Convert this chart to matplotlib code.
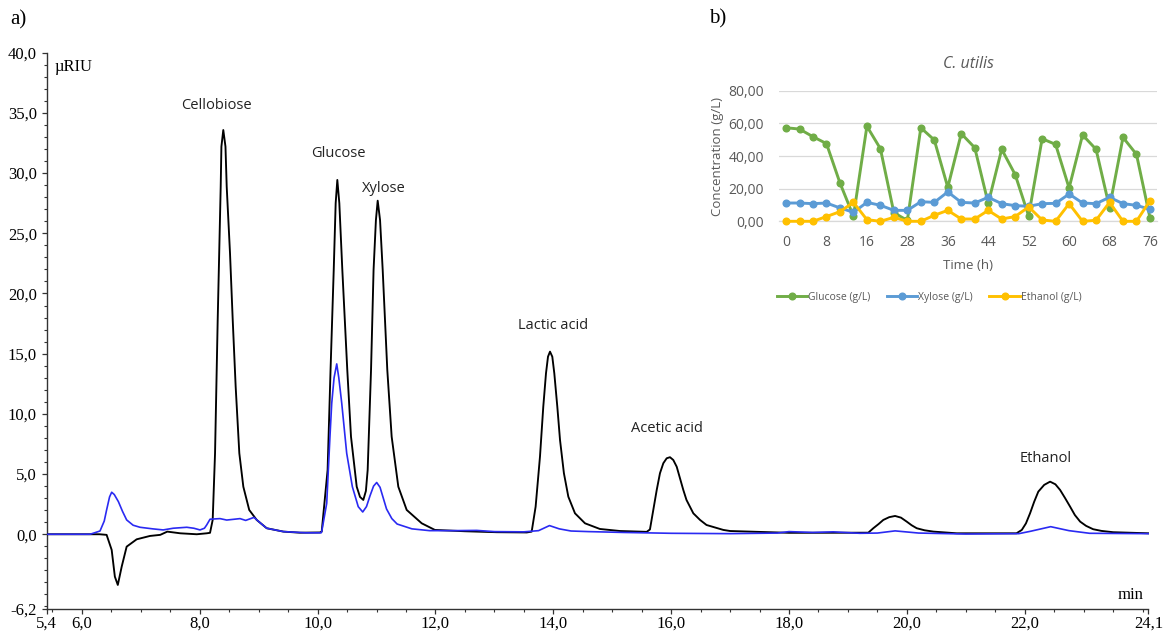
import matplotlib
matplotlib.use("Agg")
import matplotlib.pyplot as plt
from matplotlib.ticker import MultipleLocator, FixedLocator
from matplotlib.lines import Line2D

# ---------------- panel a) chromatogram (values read from the picture) ----------------
black_t = [5.40, 6.30, 6.42, 6.506, 6.56, 6.61, 6.676, 6.76, 6.93, 7.156, 7.33, 7.45, 7.50,
           7.67, 7.95, 8.12, 8.175, 8.22, 8.26, 8.305, 8.356, 8.368, 8.40, 8.437, 8.458,
           8.514, 8.56, 8.61, 8.672, 8.74, 8.84, 8.967, 9.137, 9.42, 9.70, 10.04,
           10.07, 10.17, 10.22, 10.274, 10.307, 10.335, 10.369, 10.42, 10.504, 10.567,
           10.664, 10.72, 10.776, 10.82, 10.85, 10.907, 10.95, 10.99, 11.02, 11.06, 11.105,
           11.183, 11.257, 11.37, 11.512, 11.767, 11.99, 12.5, 13.04, 13.55,
           13.633, 13.70, 13.774, 13.83, 13.876, 13.91, 13.944, 13.983, 14.017, 14.068,
           14.114, 14.18, 14.255, 14.368, 14.538, 14.79, 15.13, 15.585,
           15.64, 15.697, 15.755, 15.81, 15.867, 15.924, 15.98, 16.036, 16.094, 16.206,
           16.26, 16.376, 16.49, 16.60, 16.885, 17.0, 18.0, 19.345, 19.43, 19.52, 19.6,
           19.7, 19.8, 19.9, 19.997, 20.08, 20.167, 20.3, 20.45, 20.845, 21.86, 21.95,
           22.02, 22.09, 22.16, 22.23, 22.33, 22.43, 22.52, 22.60, 22.685, 22.77, 22.85,
           22.94, 23.04, 23.16, 23.3, 23.50, 24.07, 24.1]
black_y = [0.0, 0.0, -0.05, -1.30, -3.52, -4.21, -2.69, -1.03, -0.42, -0.14, -0.05, 0.22, 0.19,
           0.08, 0.0, 0.08, 0.12, 1.19, 6.73, 17.8, 28.87, 32.2, 33.58, 32.2, 28.87,
           23.34, 17.8, 12.26, 6.73, 3.95, 2.02, 1.19, 0.5, 0.22, 0.13, 0.15,
           0.22, 5.34, 13.65, 21.95, 27.5, 29.43, 27.5, 21.95, 13.65, 8.11,
           3.95, 3.1, 2.85, 3.6, 5.34, 13.65, 21.95, 26.1, 27.71, 26.1, 21.95,
           13.65, 8.11, 3.95, 2.02, 0.91, 0.36, 0.25, 0.17, 0.15,
           0.22, 2.29, 6.45, 10.6, 13.37, 14.75, 15.17, 14.75, 13.37, 10.6,
           7.83, 5.07, 3.12, 1.74, 0.91, 0.44, 0.27, 0.2,
           0.4, 2.02, 3.68, 5.07, 5.9, 6.31, 6.40, 6.17, 5.61, 3.68,
           2.85, 1.74, 1.19, 0.77, 0.36, 0.27, 0.12, 0.13, 0.5, 0.85, 1.19,
           1.42, 1.52, 1.38, 1.05, 0.75, 0.5, 0.33, 0.22, 0.08, 0.08, 0.36,
           0.9, 1.74, 2.7, 3.54, 4.1, 4.37, 4.15, 3.68, 3.0, 2.29, 1.6,
           1.05, 0.7, 0.42, 0.28, 0.17, 0.08, 0.08]

blue_t = [5.40, 6.14, 6.308, 6.38, 6.42, 6.47, 6.506, 6.55, 6.62, 6.69, 6.76, 6.87, 6.987,
          7.2, 7.38, 7.55, 7.78, 7.9, 8.005, 8.08, 8.118, 8.175, 8.344, 8.458, 8.684, 8.78,
          8.92, 9.05, 9.137, 9.42, 9.8, 10.06, 10.07, 10.155, 10.21, 10.24, 10.28, 10.325,
          10.36, 10.41, 10.494, 10.59, 10.69, 10.766, 10.83, 10.89, 10.95, 11.003, 11.06,
          11.17, 11.26, 11.35, 11.6, 11.9, 12.3, 12.7, 13.0, 13.5, 13.75, 13.935, 14.1,
          14.3, 14.6, 15.2, 16.0, 17.0, 17.8, 18.0, 18.4, 18.75, 19.2, 19.5, 19.8, 20.2,
          21.0, 21.9, 22.1, 22.44, 22.75, 23.1, 24.1]
blue_y = [0.0, 0.0, 0.27, 1.1, 2.02, 3.1, 3.49, 3.3, 2.71, 1.9, 1.19, 0.75, 0.58,
          0.45, 0.36, 0.5, 0.58, 0.5, 0.36, 0.5, 0.77, 1.25, 1.3, 1.18, 1.3, 1.15,
          1.4, 0.85, 0.5, 0.22, 0.12, 0.12, 0.22, 2.57, 8.1, 10.88, 13.0, 14.15,
          13.0, 10.88, 6.73, 3.95, 2.29, 1.85, 2.3, 3.2, 4.0, 4.3, 3.9,
          2.1, 1.3, 0.85, 0.45, 0.3, 0.3, 0.32, 0.22, 0.2, 0.3, 0.72, 0.45,
          0.27, 0.22, 0.15, 0.08, 0.05, 0.1, 0.22, 0.15, 0.2, 0.08, 0.1, 0.28, 0.1,
          0.02, 0.05, 0.25, 0.63, 0.3, 0.08, 0.05]

peak_names = ["Cellobiose", "Glucose", "Xylose", "Lactic acid", "Acetic acid", "Ethanol"]
peak_label_t = [8.29, 10.35, 11.13, 14.0, 15.93, 22.35]
peak_label_y = [35.65, 31.6, 28.7, 17.3, 8.75, 6.27]

x_major = [5.4, 6.0, 8.0, 10.0, 12.0, 14.0, 16.0, 18.0, 20.0, 22.0, 24.1]
y_major = [-6.2, 0, 5, 10, 15, 20, 25, 30, 35, 40]

# ---------------- panel b) C. utilis fermentation ----------------
times = ["0", "2", "4", "8", "10", "12", "16", "20", "24", "28", "32", "34", "36", "40",
         "42", "44", "48", "50", "52", "56", "58", "60", "64", "66", "68", "72", "74", "76"]
glucose = [57.3, 56.5, 51.8, 47.6, 23.5, 3.1, 58.2, 44.5, 5.3, 0.5, 57.3, 49.8, 20.8, 53.7,
           45.1, 11.0, 44.1, 28.6, 3.3, 50.6, 47.1, 20.4, 52.9, 44.1, 8.4, 51.4, 41.0, 2.2]
xylose = [11.2, 11.2, 10.8, 11.2, 8.2, 5.5, 11.6, 9.8, 6.7, 6.7, 12.0, 11.6, 18.0, 11.6,
          11.2, 14.7, 10.8, 9.6, 9.2, 10.8, 11.0, 16.7, 11.2, 10.8, 14.7, 10.8, 9.8, 7.3]
ethanol = [0, 0, 0, 2.9, 5.9, 11.6, 1.0, 0, 2.4, 0, 0, 3.7, 6.7, 1.4,
           1.4, 6.7, 1.4, 2.9, 8.8, 0.8, 0, 10.8, 0, 0.6, 11.6, 0, 0, 12.7]
series_names = ["Glucose (g/L)", "Xylose (g/L)", "Ethanol (g/L)"]
series_colors = ["#70AD47", "#5B9BD5", "#FFC000"]

W, H = 1168, 632
fig = plt.figure(figsize=(W / 100, H / 100), dpi=100)

SERIF = ["Liberation Serif", "DejaVu Serif"]
SANS = ["Open Sans", "DejaVu Sans"]

# ---- main axes ----
axL, axR, axT, axB = 46.5, 1148.5, 52.7, 608.9
ax = fig.add_axes([axL / W, 1 - axB / H, (axR - axL) / W, (axB - axT) / H])
ax.plot(black_t, black_y, color="black", lw=1.35, solid_joinstyle="round", zorder=3)
ax.plot(blue_t, blue_y, color="#2a2af2", lw=1.2, solid_joinstyle="round", zorder=4)
ax.set_xlim(5.4, 24.1)
ax.set_ylim(-6.2, 40)
for s in ("top", "right"):
    ax.spines[s].set_visible(False)
for s in ("left", "bottom"):
    ax.spines[s].set_linewidth(1.0)
    ax.spines[s].set_color("#333333")
ax.xaxis.set_major_locator(FixedLocator(x_major))
ax.yaxis.set_major_locator(FixedLocator(y_major))
ax.xaxis.set_minor_locator(MultipleLocator(0.5))
ax.yaxis.set_minor_locator(MultipleLocator(1.0))
ax.set_xticklabels([f"{v:.1f}".replace(".", ",") for v in x_major], family=SERIF, fontsize=12)
ax.set_yticklabels([f"{v:.1f}".replace(".", ",") for v in y_major], family=SERIF, fontsize=12)
ax.tick_params(which="major", length=3.5, width=0.9, color="#333333", pad=3.5)
ax.tick_params(which="minor", length=2.0, width=0.8, color="#333333")
ax.tick_params(axis="x", which="major", pad=1.0)

for name, tx, ty in zip(peak_names, peak_label_t, peak_label_y):
    ax.text(tx, ty, name, ha="center", va="center", family=SANS, fontsize=10.5, color="#222222")

fig.text(55 / W, 1 - 67 / H, "\u00b5RIU", family=SERIF, fontsize=12, ha="left", va="center")
fig.text(1143 / W, 1 - 595 / H, "min", family=SERIF, fontsize=12, ha="right", va="center")
fig.text(10 / W, 1 - 20 / H, "a)", family=SERIF, fontsize=15, ha="left", va="center")
fig.text(709 / W, 1 - 19 / H, "b)", family=SERIF, fontsize=15, ha="left", va="center")

# ---- inset ----
iL, iR, iT, iB = 779.3, 1156.7, 90.7, 221.3
ai = fig.add_axes([iL / W, 1 - iB / H, (iR - iL) / W, (iB - iT) / H])
idx = list(range(len(times)))
for vals, name, col, z in zip([glucose, xylose, ethanol], series_names, series_colors, [3, 4, 5]):
    ai.plot(idx, vals, color=col, lw=2.1, marker="o", ms=4.8, label=name, zorder=z,
            clip_on=False)
ai.set_xlim(-0.5, len(times) - 0.5)
ai.set_ylim(0, 80)
ai.set_yticks([0, 20, 40, 60, 80])
ai.set_yticklabels([f"{v:.2f}".replace(".", ",") for v in [0, 20, 40, 60, 80]],
                   family=SANS, fontsize=10, color="#595959")
ai.set_xticks(idx[::3])
ai.set_xticklabels(times[::3], family=SANS, fontsize=10, color="#595959")
ai.tick_params(length=0)
ai.tick_params(axis="y", pad=11)
ai.tick_params(axis="x", pad=10)
ai.grid(axis="y", color="#D9D9D9", lw=0.9)
ai.set_axisbelow(True)
for s in ("top", "right", "left"):
    ai.spines[s].set_visible(False)
ai.spines["bottom"].set_color("#D9D9D9")
ai.spines["bottom"].set_linewidth(0.9)
ai.set_title("C. utilis", family=SANS, fontsize=11.5, style="italic", color="#595959", pad=16)
ai.set_xlabel("Time (h)", family=SANS, fontsize=9.5, color="#595959", labelpad=6)
ai.set_ylabel("Concentration (g/L)", family=SANS, fontsize=9.5, color="#595959", labelpad=3)
handles = [Line2D([], [], color=c, lw=2.1, marker="o", ms=4.8) for c in series_colors]
leg = fig.legend(handles, series_names, loc="center", bbox_to_anchor=(929 / W, 1 - 297 / H),
                 ncol=3, frameon=False, prop={"family": SANS, "size": 7.5},
                 handlelength=2.9, handletextpad=0.1, columnspacing=1.6)
for t in leg.get_texts():
    t.set_color("#595959")

fig.savefig("out.png", dpi=100)
